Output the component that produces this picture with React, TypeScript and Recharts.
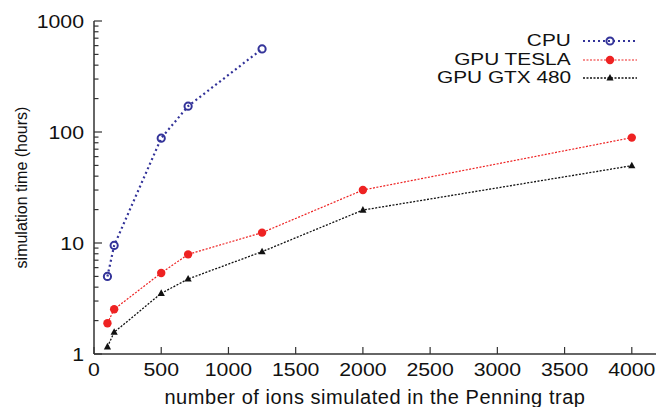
import React from "react";
import { LineChart, Line, XAxis, YAxis, Legend } from "recharts";

const FONT = '"Liberation Sans", Arial, Helvetica, sans-serif';
const AXIS = "#333";
const TEXT = "#111";
const CPU_COLOR = "#333399";
const TESLA_COLOR = "#ee2222";
const GTX_COLOR = "#111111";

// data
const ionCounts = [100, 150, 500, 700, 1250, 2000, 4000];
const cpuHours = [5.0, 9.5, 88, 171, 560];
const teslaHours = [1.89, 2.53, 5.37, 7.9, 12.4, 30, 89];
const gtxHours = [1.16, 1.57, 3.52, 4.74, 8.35, 19.8, 49.7];

const seriesNames = ["CPU", "GPU TESLA", "GPU GTX 480"];

const xTicks = [0, 500, 1000, 1500, 2000, 2500, 3000, 3500, 4000];
const yLabels = [1, 10, 100, 1000];
const yTicks = [
  1, 2, 3, 4, 5, 6, 7, 8, 9,
  10, 20, 30, 40, 50, 60, 70, 80, 90,
  100, 200, 300, 400, 500, 600, 700, 800, 900,
  1000,
];

const chartData = ionCounts.map((n, i) => ({
  ions: n,
  cpu: cpuHours[i],
  tesla: teslaHours[i],
  gtx: gtxHours[i],
}));

// markers
const OpenCircle = (cx: number, cy: number) => (
  <circle cx={cx} cy={cy} r={3.6} fill="none" stroke={CPU_COLOR} strokeWidth={2} />
);
const RedDot = (cx: number, cy: number) => (
  <circle cx={cx} cy={cy} r={4.2} fill={TESLA_COLOR} stroke="none" />
);
const Triangle = (cx: number, cy: number) => (
  <polygon
    points={`${cx},${cy - 4} ${cx - 3.6},${cy + 2.6} ${cx + 3.6},${cy + 2.6}`}
    fill={GTX_COLOR}
  />
);

const makeDot = (shape: (cx: number, cy: number) => React.ReactElement) =>
  (props: any) => {
    const { cx, cy, index } = props;
    if (cx == null || cy == null || isNaN(cy)) return <g key={index} />;
    return <g key={index}>{shape(cx, cy)}</g>;
  };

const legendStyles = [
  { color: CPU_COLOR, dash: "2 3", width: 2, marker: OpenCircle },
  { color: TESLA_COLOR, dash: "2 1.5", width: 1.2, marker: RedDot },
  { color: GTX_COLOR, dash: "2 1.5", width: 1.3, marker: Triangle },
];

// the source picture is stretched sideways, so text is widened a bit
const LegendBox = () => (
  <div style={{ fontFamily: FONT, fontSize: 16, color: TEXT }}>
    {seriesNames.map((name, i) => {
      const s = legendStyles[i];
      return (
        <div
          key={name}
          style={{
            display: "flex",
            justifyContent: "flex-end",
            alignItems: "center",
            height: 18.5,
            lineHeight: "18px",
          }}
        >
          <span
            style={{
              display: "inline-block",
              marginRight: 12,
              transform: "scaleX(1.3)",
              transformOrigin: "right center",
              whiteSpace: "nowrap",
            }}
          >
            {name}
          </span>
          <svg width={54} height={12}>
            <line
              x1={0}
              x2={54}
              y1={6}
              y2={6}
              stroke={s.color}
              strokeWidth={s.width}
              strokeDasharray={s.dash}
            />
            {s.marker(27, 6)}
          </svg>
        </div>
      );
    })}
  </div>
);

// ticks drawn inside the frame, like gnuplot
const LeftTick = (props: any) => {
  const { x, y, payload } = props;
  const v = payload.value;
  const major = yLabels.includes(v);
  const ax = x + 10;
  return (
    <g>
      <line x1={ax} x2={ax + (major ? 8 : 4.5)} y1={y} y2={y} stroke={AXIS} strokeWidth={1.2} />
      {major && (
        <text
          transform={`translate(${x},${y}) scale(1.12,1)`}
          dy="0.35em"
          textAnchor="end"
          fontSize={19}
          fill={TEXT}
          fontFamily={FONT}
        >
          {v}
        </text>
      )}
    </g>
  );
};

const RightTick = (props: any) => {
  const { x, y, payload } = props;
  const major = yLabels.includes(payload.value);
  return <line x1={x} x2={x - (major ? 8 : 4.5)} y1={y} y2={y} stroke={AXIS} strokeWidth={1.2} />;
};

const BottomTick = (props: any) => {
  const { x, y, payload } = props;
  const ay = y - 9;
  return (
    <g>
      <line x1={x} x2={x} y1={ay} y2={ay - 7} stroke={AXIS} strokeWidth={1.2} />
      <text
        transform={`translate(${x},${y}) scale(1.12,1)`}
        dy="0.71em"
        textAnchor="middle"
        fontSize={19}
        fill={TEXT}
        fontFamily={FONT}
      >
        {payload.value}
      </text>
    </g>
  );
};

const TopTick = (props: any) => {
  const { x, y } = props;
  return <line x1={x} x2={x} y1={y} y2={y + 7} stroke={AXIS} strokeWidth={1.2} />;
};

const axisLine = { stroke: AXIS, strokeWidth: 1.5 };

export default function App() {
  return (
    <div style={{ position: "absolute", top: 0, left: 0, width: 658, height: 407, background: "#fff" }}>
      <LineChart
        width={658}
        height={407}
        data={chartData}
        margin={{ top: 21, right: 2, left: 0, bottom: 0 }}
      >
        <XAxis
          dataKey="ions"
          type="number"
          domain={[0, 4180]}
          ticks={xTicks}
          interval={0}
          allowDataOverflow
          height={53}
          tickSize={0}
          tickMargin={9}
          tickLine={false}
          axisLine={axisLine}
          tick={<BottomTick />}
          label={{
            value: "number of ions simulated in the Penning trap",
            position: "insideBottom",
            offset: 3,
            style: { fontSize: 20, fontFamily: FONT, fill: TEXT, letterSpacing: "0.55px" },
          }}
        />
        <XAxis
          xAxisId="top"
          orientation="top"
          dataKey="ions"
          type="number"
          domain={[0, 4180]}
          ticks={xTicks}
          interval={0}
          allowDataOverflow
          height={0}
          tickSize={0}
          tickMargin={0}
          tickLine={false}
          axisLine={axisLine}
          tick={<TopTick />}
        />
        <YAxis
          type="number"
          scale="log"
          domain={[1, 1000]}
          ticks={yTicks}
          interval={0}
          allowDataOverflow
          width={94}
          tickSize={0}
          tickMargin={10}
          tickLine={false}
          axisLine={axisLine}
          tick={<LeftTick />}
          label={{
            value: "simulation time (hours)",
            angle: -90,
            position: "insideLeft",
            offset: 21,
            style: { fontSize: 16, fontFamily: FONT, fill: TEXT, textAnchor: "middle" },
          }}
        />
        <YAxis
          yAxisId="right"
          orientation="right"
          type="number"
          scale="log"
          domain={[1, 1000]}
          ticks={yTicks}
          interval={0}
          allowDataOverflow
          width={0}
          tickSize={0}
          tickMargin={0}
          tickLine={false}
          axisLine={axisLine}
          tick={<RightTick />}
        />
        <Legend
          layout="horizontal"
          verticalAlign="middle"
          align="center"
          content={<LegendBox />}
          wrapperStyle={{ top: 32, left: 420, width: 217, height: 56 }}
        />
        <Line
          dataKey="cpu"
          name={seriesNames[0]}
          stroke={CPU_COLOR}
          strokeWidth={2.2}
          strokeDasharray="2 3"
          dot={makeDot(OpenCircle)}
          activeDot={false}
          isAnimationActive={false}
        />
        <Line
          dataKey="tesla"
          name={seriesNames[1]}
          stroke={TESLA_COLOR}
          strokeWidth={1.2}
          strokeDasharray="2 1.5"
          dot={makeDot(RedDot)}
          activeDot={false}
          isAnimationActive={false}
        />
        <Line
          dataKey="gtx"
          name={seriesNames[2]}
          stroke={GTX_COLOR}
          strokeWidth={1.3}
          strokeDasharray="2 1.5"
          dot={makeDot(Triangle)}
          activeDot={false}
          isAnimationActive={false}
        />
      </LineChart>
    </div>
  );
}
